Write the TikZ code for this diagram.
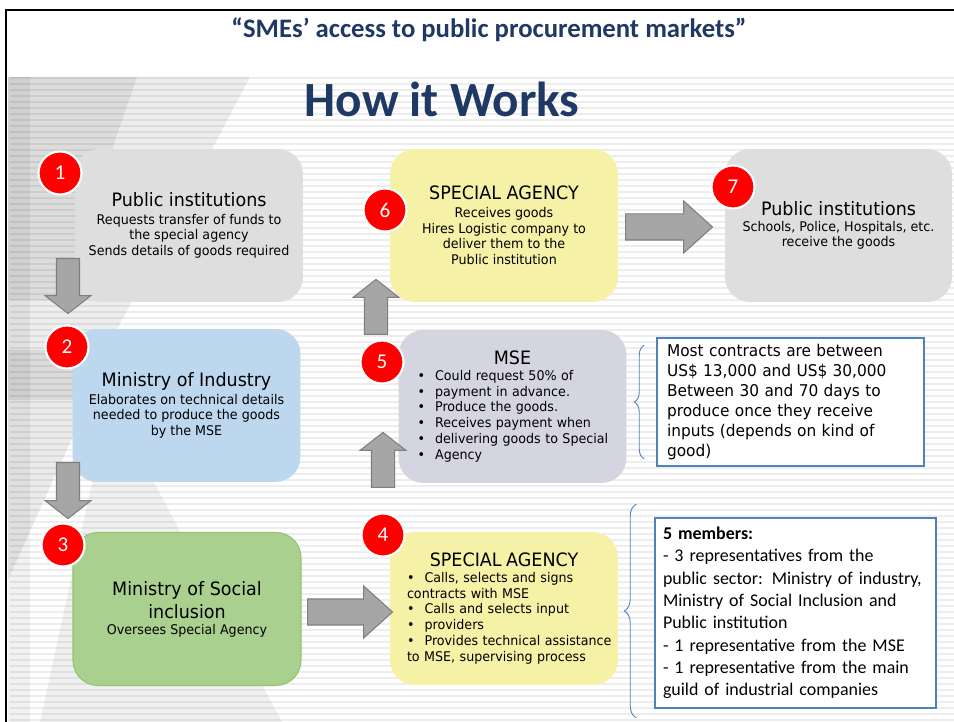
\documentclass[tikz,border=0pt]{standalone}
\usepackage{fontspec}
\setmainfont{Carlito}
\newfontfamily\boxfont[FakeStretch=0.95]{DejaVu Sans}
\usepackage{xcolor}
\definecolor{titleBlue}{RGB}{31,56,100}
\definecolor{stepGrey}{RGB}{222,222,222}
\definecolor{stepBlue}{RGB}{189,215,238}
\definecolor{stepGreen}{RGB}{169,208,142}
\definecolor{stepGreenEdge}{RGB}{150,195,110}
\definecolor{stepYellow}{RGB}{245,242,168}
\definecolor{stepLilac}{RGB}{213,213,225}
\definecolor{badgeRed}{RGB}{255,0,0}
\definecolor{arrowFill}{RGB}{166,166,166}
\definecolor{arrowEdge}{RGB}{127,127,127}
\definecolor{noteBlue}{RGB}{79,129,189}
\usetikzlibrary{arrows,shapes,positioning,calc,decorations.pathreplacing}

% boxes and badges
\tikzstyle{stepbox}=[rounded corners=0.5cm, minimum width=4.56cm, minimum height=3.06cm,
  inner sep=0pt, align=center, font=\boxfont\fontsize{7.6}{9.0}\selectfont]
\tikzstyle{badge}=[circle, fill=badgeRed, draw=white, line width=1.2pt, minimum size=0.86cm,
  inner sep=0pt, text=white, font=\fontsize{12}{12}\selectfont]
\tikzstyle{note}=[draw=noteBlue, line width=0.9pt, fill=white, inner sep=0pt, align=left]
\tikzstyle{notebrace}=[decorate, draw=noteBlue, line width=0.5pt]
\tikzstyle{stripe}=[line width=0.05cm, draw=black!7]
% block arrows: shaft from inner ysep, head from head extend
\tikzstyle{flowv}=[single arrow, fill=arrowFill, draw=arrowEdge, line width=0.6pt,
  inner xsep=0pt, inner ysep=0.22cm, single arrow head extend=0.23cm, single arrow tip angle=104]
\tikzstyle{flowh}=[single arrow, fill=arrowFill, draw=arrowEdge, line width=0.6pt,
  inner xsep=0pt, inner ysep=0.25cm, single arrow head extend=0.26cm, single arrow tip angle=84]

% block arrow from a tail point to a tip point
\newcommand{\flow}[3]{%
  \path let \p1=(#1), \p2=(#2), \n1={veclen(\x2-\x1,\y2-\y1)}, \n2={atan2(\y2-\y1,\x2-\x1)}
    in node[#3, minimum height=\n1, rotate=\n2, anchor=tail] at (\p1) {};}

\newcommand{\bigtitle}[1]{{\fontsize{10.5}{12}\selectfont #1}}
\newcommand{\bul}[1]{\makebox[10pt][l]{\textbullet}\mbox{#1}}

\begin{document}
\begin{tikzpicture}[x=0.02cm, y=-0.02cm]
  \useasboundingbox (0,0) rectangle (954,722);
  \fill[white] (0,0) rectangle (954,722);

  % striped backdrop with shaded wedges on the left
  \foreach \s in {78,84,...,720}
    \draw[stripe] (10,\s) -- (954,\s);
  \fill[black, opacity=0.07] (8,77) -- (250,77) -- (80,400) -- (8,400) -- cycle;
  \fill[black, opacity=0.07] (8,77) -- (137,77) -- (60,300) -- (8,300) -- cycle;
  \fill[black, opacity=0.08] (8,350) -- (112,350) -- (8,580) -- cycle;
  \fill[black, opacity=0.06] (110,400) -- (282,722) -- (40,722) -- cycle;
  \fill[black, opacity=0.05] (8,77) -- (30,77) -- (30,722) -- (8,722) -- cycle;

  % frame
  \draw[line width=0.05cm] (6,722) -- (6,10) -- (954,10);

  % headings
  \node[anchor=base, text=titleBlue, font=\bfseries\fontsize{15.2}{18}\selectfont]
    (subtitle) at (489,38) {“SMEs’ access to public procurement markets”};
  \node[anchor=base, text=titleBlue, font=\bfseries\fontsize{28}{32}\selectfont]
    (howto) at (442,117) {How it Works};

  % left column
  \node[stepbox, fill=stepGrey] (b1) at (189,225.5)
    {\bigtitle{Public institutions}\\[1pt] Requests transfer of funds to\\ the special agency\\
     Sends details of goods required};
  \node[stepbox, fill=stepBlue] (b2) at (186.5,405.5)
    {\bigtitle{Ministry of Industry}\\[1pt] Elaborates on technical details\\
     needed to produce the goods\\ by the MSE};
  \node[stepbox, fill=stepGreen, draw=stepGreenEdge, line width=0.6pt] (b3) at (187,609)
    {\bigtitle{Ministry of Social}\\[2pt] \bigtitle{inclusion}\\ Oversees Special Agency};

  % middle column
  \node[stepbox, fill=stepYellow, text width=3.88cm, align=left] (b4) at (504,608.5)
    {\makebox[3.88cm]{\bigtitle{SPECIAL AGENCY}}\\
     \bul{Calls, selects and signs}\\ \mbox{contracts with MSE}\\
     \bul{Calls and selects input}\\ \bul{providers}\\
     \bul{Provides technical assistance}\\ \mbox{to MSE, supervising process}};
  \node[stepbox, fill=stepLilac, text width=3.8cm, align=left] (b5) at (512.5,406.5)
    {\makebox[3.8cm]{\bigtitle{MSE}}\\
     \bul{Could request 50\% of}\\ \bul{payment in advance.}\\ \bul{Produce the goods.}\\
     \bul{Receives payment when}\\ \bul{delivering goods to Special}\\ \bul{Agency}};
  \node[stepbox, fill=stepYellow] (b6) at (504,225.5)
    {\bigtitle{SPECIAL AGENCY}\\[1pt] Receives goods\\ Hires Logistic company to\\
     deliver them to the\\ Public institution};

  % right column
  \node[stepbox, fill=stepGrey, minimum width=4.54cm] (b7) at (838.5,225.5)
    {\bigtitle{Public institutions}\\ Schools, Police, Hospitals, etc.\\ receive the goods};

  % numbered badges
  \node[badge] (n1) at (60,173) {1};
  \node[badge] (n2) at (67,347) {2};
  \node[badge] (n3) at (63,545) {3};
  \node[badge] (n4) at (383,535) {4};
  \node[badge] (n5) at (382,362) {5};
  \node[badge] (n6) at (385,210) {6};
  \node[badge] (n7) at (733,187) {7};

  % flow between the steps
  \coordinate (f12s) at (68,258);  \coordinate (f12e) at (68,313);
  \coordinate (f23s) at (68,462);  \coordinate (f23e) at (68,518);
  \coordinate (f34s) at (307,612); \coordinate (f34e) at (392,612);
  \coordinate (f45s) at (383,488); \coordinate (f45e) at (383,433);
  \coordinate (f56s) at (376,335); \coordinate (f56e) at (376,280);
  \coordinate (f67s) at (625,227); \coordinate (f67e) at (712,227);
  \flow{f12s}{f12e}{flowv}
  \flow{f23s}{f23e}{flowv}
  \flow{f34s}{f34e}{flowh}
  \flow{f45s}{f45e}{flowv}
  \flow{f56s}{f56e}{flowv}
  \flow{f67s}{f67e}{flowh}

  % side notes
  \node[note, minimum width=5.34cm, minimum height=2.56cm, text width=4.94cm,
        font=\boxfont\fontsize{9.2}{11.3}\selectfont] (note1) at (790.5,402)
    {Most contracts are between\\ US\$ 13,000 and US\$ 30,000\\ Between 30 and 70 days to\\
     produce once they receive\\ inputs (depends on kind of\\ good)};
  \node[note, minimum width=5.62cm, minimum height=3.8cm, text width=5.3cm,
        font=\fontsize{10.2}{12.7}\selectfont] (note2) at (795.5,613)
    {\textbf{5 members:}\\ - 3 representatives from the\\ public sector: Ministry of industry,\\
     Ministry of Social Inclusion and\\ Public institution\\ - 1 representative from the MSE\\
     - 1 representative from the main\\ guild of industrial companies};
  \draw[notebrace, decoration={brace, amplitude=0.2cm}]
    ($(note1.south west)+(-12,-8)$) -- ($(note1.north west)+(-12,8)$);
  \draw[notebrace, decoration={brace, amplitude=0.24cm}]
    ($(note2.south west)+(-18,9)$) -- ($(note2.north west)+(-18,-13)$);
\end{tikzpicture}
\end{document}
